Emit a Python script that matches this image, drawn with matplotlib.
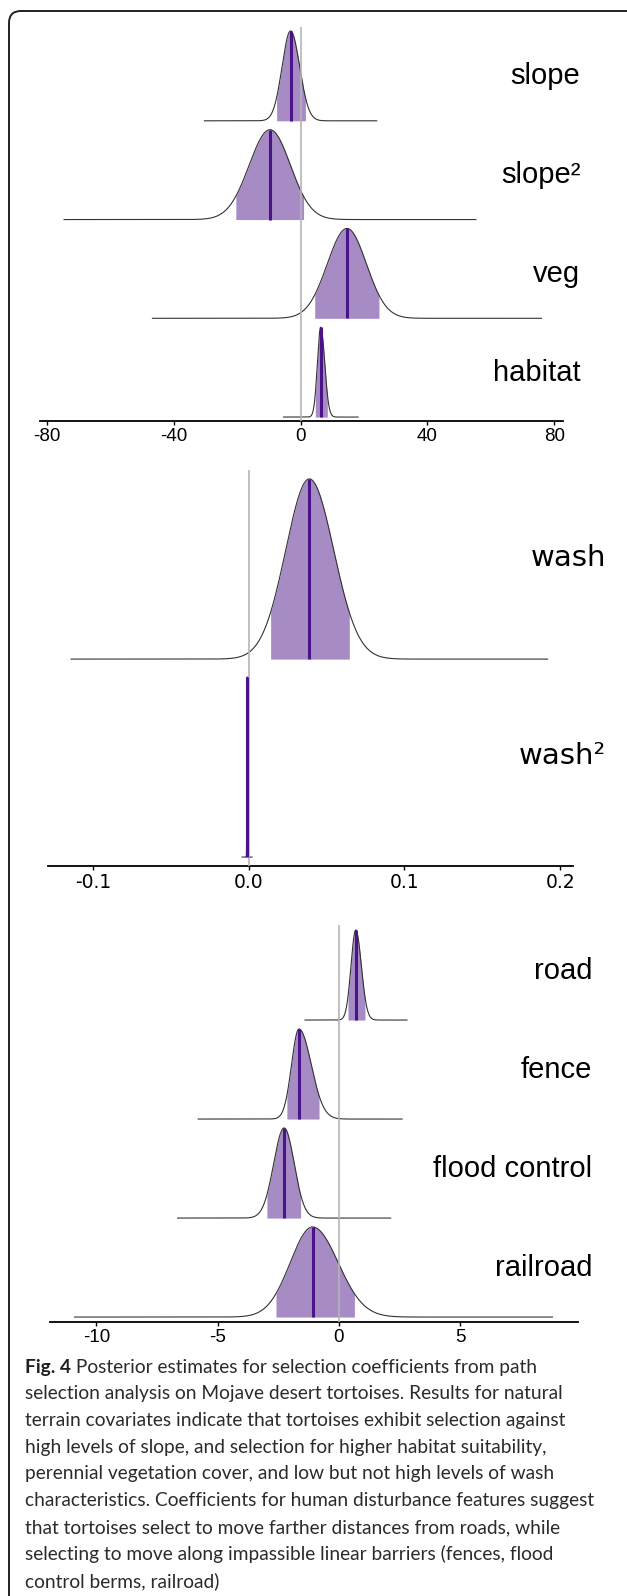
import numpy as np
import matplotlib
matplotlib.use("Agg")
import matplotlib.pyplot as plt
from matplotlib.patches import FancyBboxPatch

plt.rcParams['axes.unicode_minus'] = False

# posterior summaries: median, 90% interval, drawn range
terrain_labels = ["slope", "slope²", "veg", "habitat"]
terrain_median = [-3.2, -9.7, 14.6, 6.3]
terrain_lo = [-7.6, -20.5, 4.4, 4.6]
terrain_hi = [1.5, 0.9, 24.7, 8.4]
terrain_min = [-30.4, -74.7, -46.8, -5.4]
terrain_max = [24.0, 55.3, 76.0, 18.1]
terrain_ticks = [-80, -40, 0, 40, 80]

wash_labels = ["wash", "wash²"]
wash_median = [0.039, -0.0009]
wash_lo = [0.0141, -0.0012]
wash_hi = [0.0647, -0.0006]
wash_min = [-0.114, -0.0042]
wash_max = [0.192, 0.0022]
wash_ticks = [-0.1, 0.0, 0.1, 0.2]
wash_ticklabels = ["-0.1", "0.0", "0.1", "0.2"]

human_labels = ["road", "fence", "flood control", "railroad"]
human_median = [0.69, -1.65, -2.26, -1.09]
human_lo = [0.37, -2.15, -2.97, -2.6]
human_hi = [1.07, -0.82, -1.58, 0.64]
human_min = [-1.4, -5.8, -6.65, -10.9]
human_max = [2.8, 2.6, 2.13, 8.8]
human_ticks = [-10, -5, 0, 5]

caption_bold = "Fig. 4"
caption_lines = [
    " Posterior estimates for selection coefficients from path",
    "selection analysis on Mojave desert tortoises. Results for natural",
    "terrain covariates indicate that tortoises exhibit selection against",
    "high levels of slope, and selection for higher habitat suitability,",
    "perennial vegetation cover, and low but not high levels of wash",
    "characteristics. Coefficients for human disturbance features suggest",
    "that tortoises select to move farther distances from roads, while",
    "selecting to move along impassible linear barriers (fences, flood",
    "control berms, railroad)",
]

FILL = "#a68bc4"
MED = "#4a1488"
W, H = 627, 1596
Z = 1.645
PEAK = 0.91


def px_axes(l, r, t, b):
    return fig.add_axes([l / W, 1 - b / H, (r - l) / W, (b - t) / H])


def ridge(ax, labels, med, lo, hi, mn, mx, xlim, ylim, ticks, ticklabels,
          font, label_x, label_dy):
    n = len(labels)
    for i in range(n):
        y0 = n - 1 - i
        sl = (med[i] - lo[i]) / Z
        sr = (hi[i] - med[i]) / Z
        x = np.linspace(mn[i], mx[i], 3000)
        s = np.where(x < med[i], sl, sr)
        d = np.exp(-0.5 * ((x - med[i]) / s) ** 2) * PEAK
        inner = (x >= lo[i]) & (x <= hi[i])
        ax.fill_between(x[inner], y0, y0 + d[inner], color=FILL, lw=0, zorder=2)
        ax.plot(x, y0 + d, color="#333333", lw=0.8, zorder=3)
        ax.plot([med[i], med[i]], [y0, y0 + PEAK], color=MED, lw=2.2, zorder=4,
                solid_capstyle="butt")
        ax.text(label_x, y0 + label_dy, labels[i], transform=ax.get_yaxis_transform(),
                ha="right", va="center", fontsize=21, family=font, clip_on=False)
    ax.axvline(0, color="#b5b5b5", lw=1.2, zorder=3.5)
    ax.set_xlim(*xlim)
    ax.set_ylim(*ylim)
    for sp in ["left", "right", "top"]:
        ax.spines[sp].set_visible(False)
    ax.spines["bottom"].set_linewidth(1.3)
    ax.set_yticks([])
    ax.set_xticks(ticks)
    ax.set_xticklabels(ticklabels, family=font, fontsize=13.5)
    ax.tick_params(axis="x", length=3, width=1, pad=2)
    ax.patch.set_alpha(0)


fig = plt.figure(figsize=(W / 100, H / 100), dpi=100)

ax1 = px_axes(40, 563, 27, 421)
ridge(ax1, terrain_labels, terrain_median, terrain_lo, terrain_hi, terrain_min,
      terrain_max, (-82.3, 82.8), (-0.04, 3.95), terrain_ticks,
      [str(t) for t in terrain_ticks], "Liberation Sans", 1.033, 0.45)

ax2 = px_axes(48, 573, 470, 866)
ridge(ax2, wash_labels, wash_median, wash_lo, wash_hi, wash_min, wash_max,
      (-0.1288, 0.2083), (-0.045, 1.955), wash_ticks, wash_ticklabels,
      "DejaVu Sans", 1.063, 0.51)

ax3 = px_axes(50, 578, 925, 1322)
ridge(ax3, human_labels, human_median, human_lo, human_hi, human_min, human_max,
      (-11.91, 9.85), (-0.05, 3.96), human_ticks, [str(t) for t in human_ticks],
      "Liberation Sans", 1.027, 0.5)

# caption
cap_font = "Lato"
cap_size = 13.8
y = 1367
t0 = fig.text(25 / W, 1 - y / H, caption_bold, fontsize=cap_size, family=cap_font,
              weight="bold", color="#231f20", va="center", ha="left")
fig.canvas.draw()
bb = t0.get_window_extent(fig.canvas.get_renderer())
fig.text(bb.x1 / W, 1 - y / H, caption_lines[0], fontsize=cap_size, family=cap_font,
         color="#2b2b2b", va="center", ha="left")
for k, line in enumerate(caption_lines[1:], start=1):
    fig.text(25 / W, 1 - (y + 26.75 * k) / H, line, fontsize=cap_size,
             family=cap_font, color="#2b2b2b", va="center", ha="left")

# rounded frame (only top-left corner visible)
frame = FancyBboxPatch((0.09, -0.5), 7.0, 15.85 + 0.5, boxstyle="round,pad=0,rounding_size=0.12",
                       transform=fig.dpi_scale_trans, fill=False, ec="#222222", lw=1.4)
fig.add_artist(frame)

fig.savefig("out.png", dpi=100)
